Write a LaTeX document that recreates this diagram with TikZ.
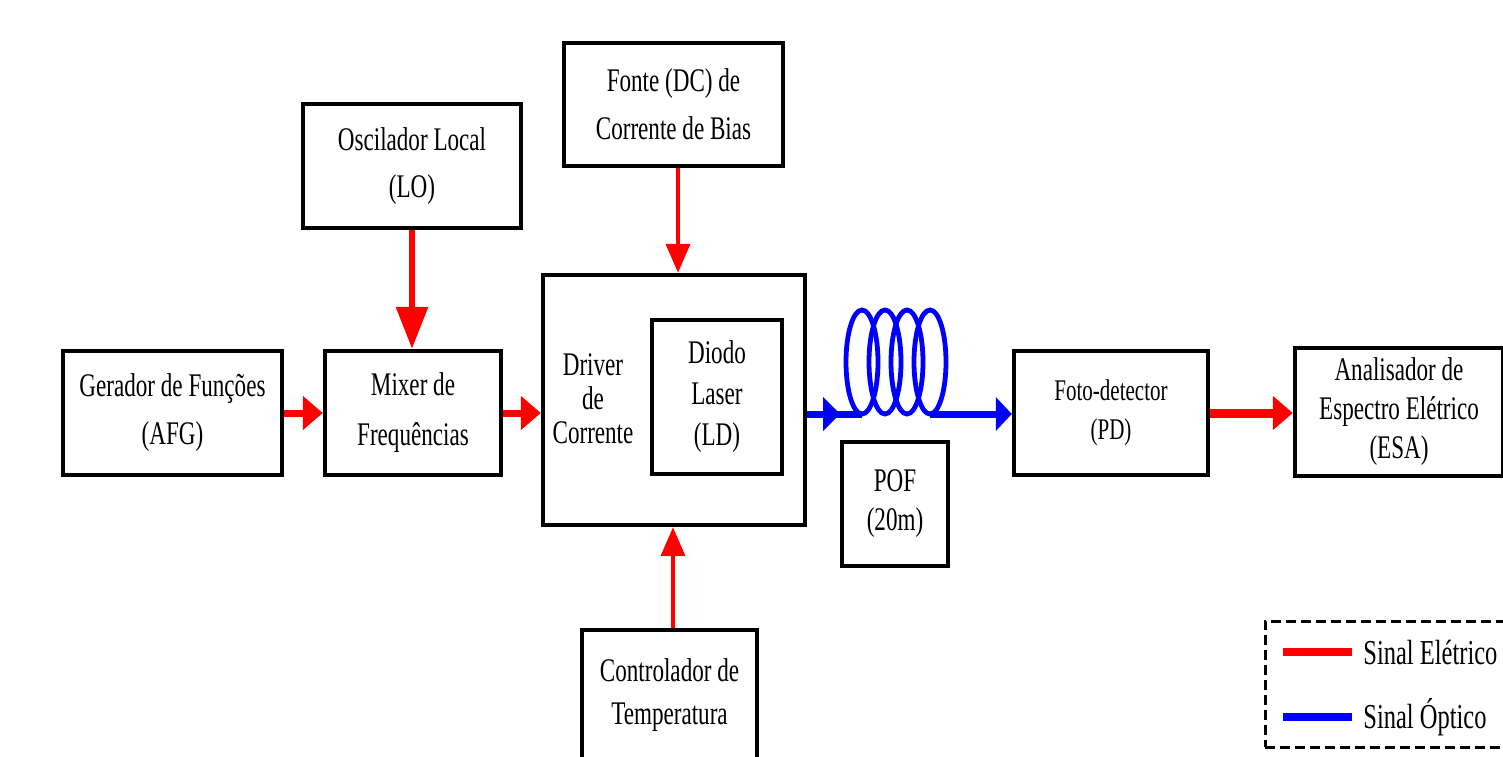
\documentclass[tikz,border=0pt]{standalone}
\usepackage{fontspec}
\setmainfont{Liberation Serif}[FakeStretch=0.7]
\usetikzlibrary{arrows.meta,calc,decorations.markings}

\begin{document}
\begin{tikzpicture}[
        x=0.5pt, y=-0.5pt,
        blok/.style={draw, line width=2.2pt, align=center, inner sep=0pt, font=\fontsize{16.5pt}{#1}\selectfont},
        blok/.default=24pt,
        sig/.style={draw=red, line width=3.5pt, -{Triangle[length=10pt, width=16.5pt]}},
        sigv/.style={draw=red, line width=2pt, -{Triangle[length=14.5pt, width=12pt]}},
        opt/.style={draw=blue, color=blue, line width=3.5pt},
        coil/.style={draw=blue, line width=2.4pt},
        legtxt/.style={inner sep=0pt, anchor=west, font=\fontsize{17.5pt}{20pt}\selectfont}
    ]
        \path[use as bounding box, clip] (0,0) rectangle (1503,756);

        \node[blok, minimum width=109.5pt, minimum height=62pt] (afg) at (172.5,413) {Gerador de Funções\\(AFG)};
        \node[blok=25pt, minimum width=88pt, minimum height=62pt] (mixer) at (413,413) {Mixer de\\Frequências};
        \node[blok=23.5pt, minimum width=109pt, minimum height=62pt] (lo) at (412,166) {Oscilador Local\\(LO)};
        \node[blok, minimum width=109.5pt, minimum height=61.5pt] (fonte) at (673.5,104.5) {Fonte (DC) de\\Corrente de Bias};
        \node[blok, minimum width=131pt, minimum height=125pt] (driver) at (674,400) {};
        \node[blok=17pt, draw=none] (drvlbl) at (593,399) {Driver\\de\\Corrente};
        \node[blok=20.5pt, minimum width=65pt, minimum height=77pt] (ld) at (717,397) {Diodo\\Laser\\(LD)};
        \node[blok=21.5pt, minimum width=87.5pt, minimum height=65pt] (ctrl) at (669.5,695) {Controlador de\\Temperatura};
        \node[blok=19.5pt, minimum width=53pt, minimum height=62pt] (pof) at (895,504) {POF\\(20m)};
        \node[blok, font=\fontsize{15pt}{19.5pt}\selectfont, minimum width=97pt, minimum height=62pt] (pd) at (1111,413) {Foto-detector\\(PD)};
        \node[blok=19.5pt, minimum width=104pt, minimum height=64pt] (esa) at (1399,412) {Analisador de\\Espectro Elétrico\\(ESA)};

        % legenda
        \node[draw, line width=1.5pt, dash pattern=on 5pt off 2.5pt, minimum width=137.5pt, minimum height=63pt] (legend) at (1402.5,684) {};
        \node[legtxt] (lgel) at (1363,652) {Sinal Elétrico};
        \node[legtxt] (lgop) at (1363,717) {Sinal Óptico};
        \draw[draw=red, line width=4pt] ([xshift=-40pt]lgel.west) -- ([xshift=-5.5pt]lgel.west);
        \draw[draw=blue, line width=4pt] ([xshift=-40pt]lgop.west) -- ([xshift=-5.5pt]lgop.west);

        % sinais eletricos
        \draw[sig] (afg) -- (mixer);
        \draw[sig] (mixer.east) -- (mixer.east -| driver.west);
        \draw[sig, line width=3pt, -{Triangle[length=21pt, width=15.5pt]}] (lo.south) -- (lo.south |- mixer.north);
        \draw[sigv] ($(fonte.south)+(4.5,0)$) -- ($(driver.north)+(4,0)$);
        \draw[sigv] ($(ctrl.north)+(3.5,0)$) -- ($(driver.south)+(-1,0)$);
        \draw[sig, line width=4.5pt] (pd.east) -- (pd.east -| esa.west);

        % fibra (POF)
        \coordinate (cin) at (862,414);
        \coordinate (cout) at (930,414);
        \draw[opt, postaction={decorate}, decoration={markings, mark=at position 0.6 with {\arrow{Triangle[length=8.5pt, width=16.5pt]}}}] (cin -| driver.east) -- (cin);
        \foreach \cx in {862,885,907,930}
            \draw[coil] (\cx,362) ellipse [x radius=8pt, y radius=26pt];
        \draw[opt, -{Triangle[length=8pt, width=16.5pt]}] (cout) -- (cout -| pd.west);
    \end{tikzpicture}
\end{document}
